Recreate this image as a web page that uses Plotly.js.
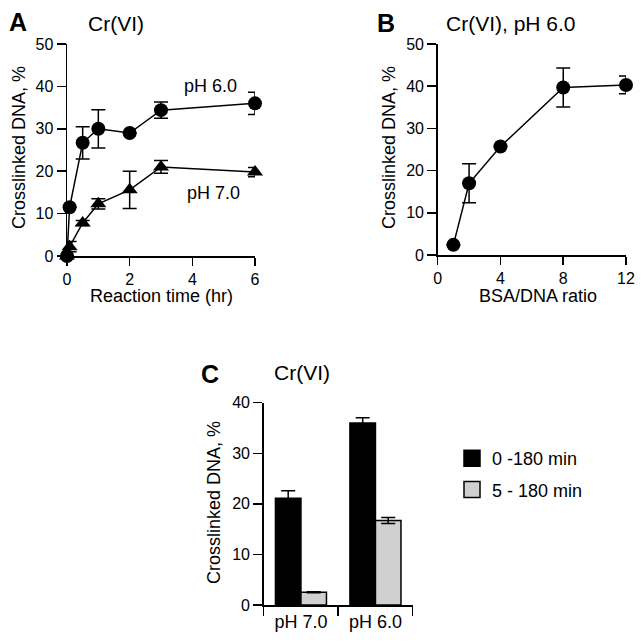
<!DOCTYPE html>
<html>
<head>
<meta charset="utf-8">
<script src="https://cdn.plot.ly/plotly-3.0.1.min.js"></script>
<style>html,body{margin:0;padding:0;background:#fff;}#chart{width:643px;height:644px;}</style>
</head>
<body>
<div id="chart"></div>
<script>
// Panel A: crosslinked DNA vs reaction time
const timeHr = [0, 0.083, 0.5, 1, 2, 3, 6];
const ph6Values = [0, 11.5, 26.7, 30.0, 29.0, 34.4, 36.0];
const ph6Err = [0, 0, 3.8, 4.5, 0, 1.9, 2.6];
const ph7Values = [0, 2.2, 7.8, 12.3, 15.6, 21.0, 19.8];
const ph7Err = [0, 1.2, 0.6, 1.2, 4.4, 1.5, 1.1];
const timeTicks = [0, 2, 4, 6];

// Panel B: crosslinked DNA vs BSA/DNA ratio
const ratio = [1, 2, 4, 8, 12];
const ratioValues = [2.4, 17.0, 25.7, 39.7, 40.3];
const ratioErr = [0, 4.6, 0, 4.6, 2.1];
const ratioTicks = [0, 4, 8, 12];

// Panel C: bars
const phCategories = ["pH 7.0", "pH 6.0"];
const series0to180 = [21.1, 36.0];
const err0to180 = [1.5, 1.0];
const series5to180 = [2.5, 16.7];
const err5to180 = [0.1, 0.6];
const seriesNames = ["0 -180 min", "5 - 180 min"];

const FONT = "Liberation Sans, Arial, Helvetica, sans-serif";
const W = 643, H = 644;
const px = v => v / W;
const py = v => 1 - v / H;

const errStyle = {type: "data", visible: true, color: "#000", thickness: 1.5, width: 7};

const traces = [
  {x: timeHr, y: ph6Values, xaxis: "x", yaxis: "y", type: "scatter", mode: "lines+markers",
   error_y: Object.assign({array: ph6Err}, errStyle),
   line: {color: "#000", width: 1.5}, marker: {symbol: "circle", size: 14, color: "#000"},
   showlegend: false, cliponaxis: false},
  {x: timeHr, y: ph7Values, xaxis: "x", yaxis: "y", type: "scatter", mode: "lines+markers",
   error_y: Object.assign({array: ph7Err}, errStyle),
   line: {color: "#000", width: 1.5}, marker: {symbol: "triangle-up", size: 14, color: "#000"},
   showlegend: false, cliponaxis: false},
  {x: ratio, y: ratioValues, xaxis: "x2", yaxis: "y2", type: "scatter", mode: "lines+markers",
   error_y: Object.assign({array: ratioErr}, errStyle),
   line: {color: "#000", width: 1.5}, marker: {symbol: "circle", size: 14, color: "#000"},
   showlegend: false, cliponaxis: false},
  {x: phCategories, y: series0to180, xaxis: "x3", yaxis: "y3", type: "bar", name: seriesNames[0],
   marker: {color: "#000", line: {color: "#000", width: 1.5}},
   error_y: Object.assign({array: err0to180}, errStyle), showlegend: false},
  {x: phCategories, y: series5to180, xaxis: "x3", yaxis: "y3", type: "bar", name: seriesNames[1],
   marker: {color: "#d0d0d0", line: {color: "#000", width: 1.5}},
   error_y: Object.assign({array: err5to180}, errStyle), showlegend: false},
  {x: [null], y: [null], xaxis: "x3", yaxis: "y3", type: "scatter", mode: "markers", name: seriesNames[0],
   marker: {symbol: "square", size: 16, color: "#000", line: {color: "#000", width: 1.5}}, legendgroup: "a"},
  {x: [null], y: [null], xaxis: "x3", yaxis: "y3", type: "scatter", mode: "markers", name: seriesNames[1],
   marker: {symbol: "square", size: 16, color: "#d0d0d0", line: {color: "#000", width: 1.5}}, legendgroup: "b"}
];

const axisBase = {
  showline: true, linecolor: "#000", linewidth: 1.5, ticks: "outside", ticklen: 8, tickwidth: 1.5,
  tickcolor: "#000", showgrid: false, zeroline: false, tickfont: {family: FONT, size: 16, color: "#000"},
  fixedrange: true
};

const layout = {
  width: W, height: H, margin: {l: 0, r: 0, t: 0, b: 0},
  paper_bgcolor: "#fff", plot_bgcolor: "#fff",
  font: {family: FONT, color: "#000"},
  barmode: "group", bargap: 0.315, bargroupgap: 0,
  xaxis: Object.assign({}, axisBase, {domain: [px(67), px(255)], range: [0, 6], tickvals: timeTicks, anchor: "y"}),
  yaxis: Object.assign({}, axisBase, {domain: [py(256), py(44)], range: [0, 50], dtick: 10, anchor: "x", ticklen: 9}),
  xaxis2: Object.assign({}, axisBase, {domain: [px(437.7), px(626)], range: [0, 12], tickvals: ratioTicks, anchor: "y2"}),
  yaxis2: Object.assign({}, axisBase, {domain: [py(255), py(44)], range: [0, 50], dtick: 10, anchor: "x2", ticklen: 9}),
  xaxis3: Object.assign({}, axisBase, {domain: [px(263.7), px(412.7)], type: "category", tickson: "boundaries",
    anchor: "y3", ticklen: 9, tickfont: {family: FONT, size: 18, color: "#000"}}),
  yaxis3: Object.assign({}, axisBase, {domain: [py(605), py(402.7)], range: [0, 40], dtick: 10, anchor: "x3", ticklen: 9}),
  showlegend: true,
  legend: {x: px(452), y: py(440), xanchor: "left", yanchor: "top", font: {family: FONT, size: 18, color: "#000"},
    bgcolor: "rgba(0,0,0,0)", tracegroupgap: 5, traceorder: "grouped"},
  annotations: [
    {text: "<b>A</b>", x: px(18), y: py(22), font: {size: 25}},
    {text: "Cr(VI)", x: px(116), y: py(24), font: {size: 21}},
    {text: "<b>B</b>", x: px(386), y: py(23), font: {size: 25}},
    {text: "Cr(VI), pH 6.0", x: px(511.5), y: py(24), font: {size: 21}},
    {text: "<b>C</b>", x: px(210), y: py(374), font: {size: 25}},
    {text: "Cr(VI)", x: px(302), y: py(372), font: {size: 21}},
    {text: "pH 6.0", x: px(210), y: py(86), font: {size: 18}},
    {text: "pH 7.0", x: px(213), y: py(193), font: {size: 18}},
    {text: "Reaction time (hr)", x: px(161), y: py(296), font: {size: 18}},
    {text: "BSA/DNA ratio", x: px(538), y: py(296), font: {size: 18}},
    {text: "Crosslinked DNA, %", x: px(19), y: py(148), textangle: -90, font: {size: 18}},
    {text: "Crosslinked DNA, %", x: px(389), y: py(148), textangle: -90, font: {size: 18}},
    {text: "Crosslinked DNA, %", x: px(214), y: py(503), textangle: -90, font: {size: 18}}
  ].map(a => Object.assign({xref: "paper", yref: "paper", showarrow: false, xanchor: "center", yanchor: "middle"},
    a, {font: Object.assign({family: FONT, color: "#000"}, a.font)}))
};

Plotly.newPlot("chart", traces, layout, {staticPlot: true, displayModeBar: false});
</script>
</body>
</html>
